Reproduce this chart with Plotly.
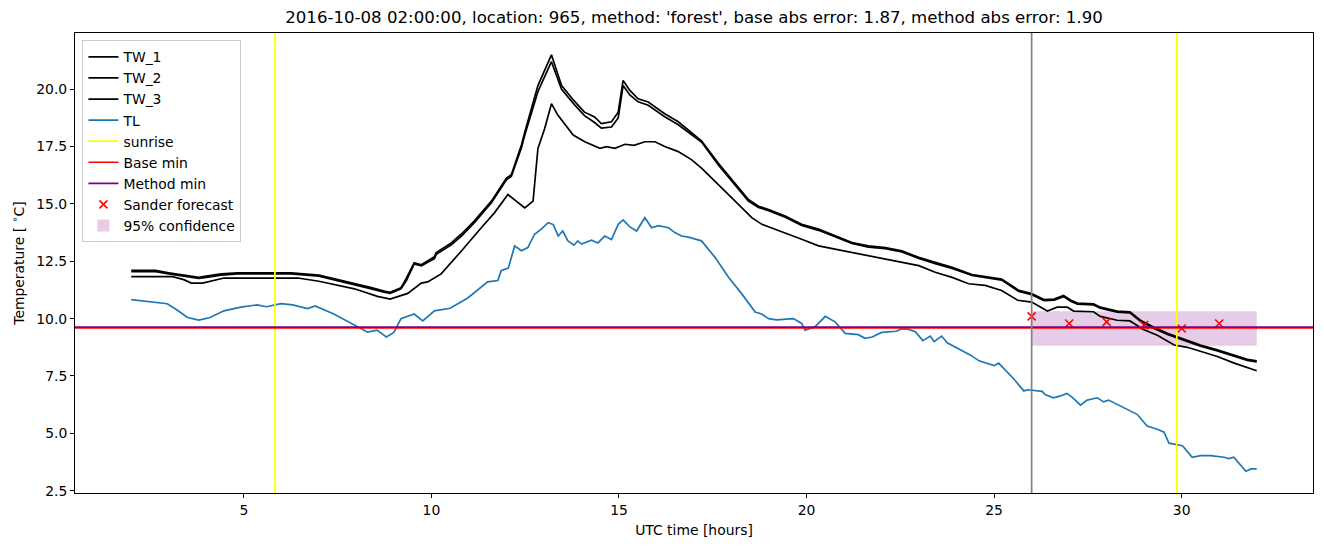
import plotly.graph_objects as go

# ---------------- data ----------------
tw_hours = [2.0, 2.65, 3.0, 3.4, 3.8, 4.0, 4.4, 4.83, 6.26, 7.0, 7.4, 7.95, 8.4, 8.74, 8.9,
            9.19, 9.33, 9.54, 9.73, 10.08, 10.13, 10.53, 10.8, 11.14, 11.6, 12.0, 12.13,
            12.4, 12.49, 12.84, 13.2, 13.47, 13.8, 14.08, 14.35, 14.53, 14.8, 14.98, 15.11,
            15.29, 15.51, 15.78, 16.22, 16.58, 17.02, 17.2, 17.65, 18.09, 18.45, 18.72,
            18.99, 19.43, 19.87, 20.32, 20.76, 21.21, 21.65, 22.1, 22.54, 22.99, 23.43,
            23.88, 24.41, 25.0, 25.2, 25.39, 25.66, 26.0, 26.33, 26.6, 26.85, 27.05, 27.22,
            27.65, 27.83, 28.28, 28.62, 28.9, 29.26, 29.62, 30.05, 30.5, 30.95, 31.4, 31.75,
            32.0]
tw1_temp = [12.1, 12.1, 12.0, 11.9, 11.8, 11.85, 11.95, 12.0, 12.0, 11.9, 11.75, 11.55, 11.35,
            11.2, 11.15, 11.35, 11.75, 12.44, 12.35, 12.7, 12.88, 13.3, 13.69, 14.25, 15.12,
            16.13, 16.27, 17.57, 18.14, 20.16, 21.5, 20.16, 19.5, 19.0, 18.79, 18.5, 18.58,
            19.0, 20.38, 19.95, 19.58, 19.44, 18.93, 18.58, 18.0, 17.75, 16.77, 15.91, 15.19,
            14.9, 14.76, 14.47, 14.11, 13.9, 13.6, 13.32, 13.17, 13.1, 12.96, 12.67, 12.45,
            12.24, 11.92, 11.8, 11.73, 11.52, 11.23, 11.09, 10.83, 10.85, 11.01, 10.8, 10.68,
            10.65, 10.5, 10.33, 10.3, 9.93, 9.62, 9.36, 9.1, 8.85, 8.64, 8.42, 8.23, 8.16]
tw2_temp = [12.05, 12.05, 11.95, 11.85, 11.75, 11.8, 11.9, 11.95, 11.95, 11.85, 11.7, 11.5, 11.3,
            11.15, 11.1, 11.3, 11.65, 12.38, 12.3, 12.62, 12.8, 13.22, 13.6, 14.17, 15.05,
            16.05, 16.2, 17.45, 18.0, 19.9, 21.2, 20.0, 19.35, 18.85, 18.55, 18.3, 18.35,
            18.75, 20.16, 19.75, 19.45, 19.3, 18.8, 18.45, 17.9, 17.7, 16.7, 15.85, 15.12,
            14.85, 14.7, 14.42, 14.06, 13.85, 13.56, 13.28, 13.12, 13.05, 12.91, 12.62, 12.4,
            12.19, 11.88, 11.75, 11.68, 11.47, 11.18, 11.04, 10.78, 10.8, 10.96, 10.75, 10.63,
            10.6, 10.45, 10.28, 10.25, 9.88, 9.57, 9.31, 9.05, 8.8, 8.59, 8.37, 8.18, 8.11]

tw3_hours = [2.0, 3.1, 3.4, 3.6, 3.9, 4.2, 4.47, 6.44, 7.0, 7.95, 8.56, 8.9, 9.37, 9.73, 9.9,
             10.26, 10.44, 10.8, 11.33, 11.68, 12.04, 12.22, 12.49, 12.71, 12.84, 13.02, 13.2,
             13.37, 13.78, 14.09, 14.49, 14.67, 14.89, 15.16, 15.4, 15.69, 15.96, 16.22, 16.58,
             16.94, 17.2, 17.65, 18.09, 18.54, 18.81, 19.43, 19.87, 20.32, 20.76, 21.21, 21.65,
             22.1, 22.54, 22.99, 23.43, 23.88, 24.32, 24.76, 25.2, 25.63, 26.0, 26.42, 26.68,
             26.95, 27.12, 27.65, 27.83, 28.28, 28.62, 28.98, 29.35, 29.8, 30.15, 30.5, 30.95,
             31.4, 31.75, 32.0]
tw3_temp = [11.83, 11.83, 11.7, 11.55, 11.55, 11.65, 11.77, 11.77, 11.63, 11.3, 10.97, 10.85,
            11.1, 11.55, 11.6, 11.95, 12.3, 12.95, 13.96, 14.61, 15.41, 15.19, 14.83, 15.12,
            17.42, 18.29, 19.37, 18.87, 18.0, 17.71, 17.42, 17.5, 17.42, 17.6, 17.55, 17.71,
            17.71, 17.5, 17.28, 16.92, 16.56, 15.84, 15.12, 14.4, 14.11, 13.75, 13.46, 13.17,
            13.03, 12.88, 12.74, 12.6, 12.45, 12.31, 12.02, 11.8, 11.52, 11.45, 11.23, 10.8,
            10.72, 10.33, 10.5, 10.5, 10.33, 10.3, 10.1, 9.93, 9.9, 9.53, 9.28, 8.85, 8.75,
            8.56, 8.35, 8.06, 7.85, 7.73]

tl_hours = [2.0, 2.52, 2.96, 3.2, 3.5, 3.8, 4.1, 4.47, 4.92, 5.35, 5.6, 5.99, 6.3, 6.7, 6.9,
            7.4, 7.95, 8.3, 8.55, 8.8, 9.0, 9.19, 9.54, 9.77, 10.08, 10.5, 10.97, 11.5, 11.77,
            11.86, 12.05, 12.22, 12.4, 12.57, 12.75, 12.93, 13.11, 13.25, 13.38, 13.5, 13.64,
            13.8, 13.9, 14.0, 14.27, 14.44, 14.62, 14.8, 14.98, 15.11, 15.29, 15.47, 15.69,
            15.87, 16.05, 16.32, 16.49, 16.67, 16.85, 17.2, 17.56, 17.92, 18.27, 18.63, 18.8,
            18.99, 19.2, 19.43, 19.65, 19.87, 19.96, 20.23, 20.5, 20.76, 21.03, 21.38, 21.56,
            21.75, 21.92, 22.0, 22.4, 22.5, 22.7, 22.9, 23.1, 23.3, 23.4, 23.6, 23.75, 24.1,
            24.36, 24.6, 24.82, 25.0, 25.12, 25.34, 25.52, 25.79, 25.9, 26.28, 26.36, 26.58,
            26.75, 26.94, 27.1, 27.3, 27.48, 27.75, 27.92, 28.05, 28.28, 28.55, 28.81, 29.08,
            29.35, 29.53, 29.66, 30.02, 30.28, 30.5, 30.77, 31.13, 31.25, 31.39, 31.71, 31.85,
            32.0]
tl_temp = [10.83, 10.73, 10.65, 10.4, 10.05, 9.94, 10.05, 10.34, 10.5, 10.6, 10.52, 10.65,
           10.6, 10.44, 10.55, 10.2, 9.7, 9.41, 9.5, 9.2, 9.4, 10.0, 10.2, 9.9, 10.34, 10.45,
           10.9, 11.6, 11.66, 12.09, 12.2, 13.17, 12.96, 13.1, 13.68, 13.9, 14.18, 14.1, 13.6,
           13.82, 13.39, 13.2, 13.39, 13.25, 13.42, 13.3, 13.6, 13.45, 14.11, 14.3, 14.0, 13.82,
           14.4, 13.96, 14.05, 13.96, 13.75, 13.6, 13.55, 13.39, 12.67, 11.8, 11.09, 10.29,
           10.2, 10.0, 9.95, 9.98, 10.0, 9.79, 9.5, 9.65, 10.1, 9.86, 9.36, 9.3, 9.14, 9.2,
           9.36, 9.4, 9.45, 9.54, 9.54, 9.43, 9.04, 9.24, 9.0, 9.24, 8.95, 8.64, 8.42, 8.16,
           8.06, 7.95, 8.06, 7.7, 7.38, 6.85, 6.9, 6.83, 6.69, 6.55, 6.62, 6.74, 6.55, 6.23,
           6.45, 6.55, 6.37, 6.45, 6.26, 6.04, 5.83, 5.32, 5.18, 5.05, 4.57, 4.46, 3.96, 4.03,
           4.03, 3.96, 3.9, 3.96, 3.35, 3.45, 3.45]

sunrise_hours = [5.83, 29.87]
forecast_start = 26.0
base_min = 9.60
method_min = 9.63
sander_hours = [26, 27, 28, 29, 30, 31]
sander_temp = [10.1, 9.79, 9.86, 9.72, 9.57, 9.79]
conf_hours = [26.0, 32.0]
conf_temp = [8.82, 10.32]

title_text = ("2016-10-08 02:00:00, location: 965, method: 'forest', "
              "base abs error: 1.87, method abs error: 1.90")

# ---------------- figure ----------------
FONT = "DejaVu Sans, sans-serif"
FS = 13.9
LW = 1.7

fig = go.Figure()
fig.add_trace(go.Scatter(x=tw_hours, y=tw1_temp, mode="lines", name="TW_1",
                         line=dict(color="black", width=LW), legendrank=1))
fig.add_trace(go.Scatter(x=tw_hours, y=tw2_temp, mode="lines", name="TW_2",
                         line=dict(color="black", width=LW), legendrank=2))
fig.add_trace(go.Scatter(x=tw3_hours, y=tw3_temp, mode="lines", name="TW_3",
                         line=dict(color="black", width=LW), legendrank=3))
fig.add_trace(go.Scatter(x=tl_hours, y=tl_temp, mode="lines", name="TL",
                         line=dict(color="#1f77b4", width=LW), legendrank=4))
fig.add_trace(go.Scatter(x=sander_hours, y=sander_temp, mode="markers", name="Sander forecast",
                         marker=dict(symbol="x-thin", size=8, color="red",
                                     line=dict(color="red", width=1.6)),
                         legendrank=8))

shapes = []
for i, s in enumerate(sunrise_hours):
    shapes.append(dict(type="line", xref="x", yref="y domain", x0=s, x1=s, y0=0, y1=1,
                       line=dict(color="yellow", width=LW), layer="above",
                       showlegend=(i == 0), name="sunrise", legendrank=5))
shapes.append(dict(type="line", xref="x domain", yref="y", x0=0, x1=1, y0=base_min, y1=base_min,
                   line=dict(color="red", width=LW), layer="above",
                   showlegend=True, name="Base min", legendrank=6))
shapes.append(dict(type="line", xref="x domain", yref="y", x0=0, x1=1, y0=method_min,
                   y1=method_min, line=dict(color="purple", width=LW), layer="above",
                   showlegend=True, name="Method min", legendrank=7))
shapes.append(dict(type="line", xref="x", yref="y domain", x0=forecast_start, x1=forecast_start,
                   y0=0, y1=1, line=dict(color="gray", width=LW), layer="above"))
shapes.append(dict(type="rect", xref="x", yref="y", x0=conf_hours[0], x1=conf_hours[1],
                   y0=conf_temp[0], y1=conf_temp[1], fillcolor="rgba(128,0,128,0.2)",
                   line=dict(width=0), layer="below",
                   showlegend=True, name="95% confidence", legendrank=9))

fig.update_layout(
    width=1324, height=547,
    margin=dict(l=75, r=11, t=33, b=54),
    paper_bgcolor="white", plot_bgcolor="white",
    font=dict(family=FONT, size=FS, color="black"),
    title=dict(text=title_text, x=0.5, xanchor="center", xref="paper",
               y=1 - 17 / 547, yanchor="middle", font=dict(size=16.6)),
    shapes=shapes,
    showlegend=True,
    legend=dict(x=0.006, y=0.984, xanchor="left", yanchor="top",
                bgcolor="rgba(255,255,255,0.8)", bordercolor="#cccccc", borderwidth=1,
                font=dict(size=FS), itemwidth=30, tracegroupgap=0),
)
fig.update_xaxes(range=[0.5, 33.5], tickvals=[5, 10, 15, 20, 25, 30],
                 tickfont=dict(size=FS),
                 showline=True, linecolor="black", linewidth=1, mirror=True,
                 ticks="outside", ticklen=4, tickcolor="black", showgrid=False, zeroline=False,
                 title=dict(text="UTC time [hours]", standoff=8, font=dict(size=FS)))
fig.update_yaxes(range=[2.4, 22.45], tickvals=[2.5, 5, 7.5, 10, 12.5, 15, 17.5, 20],
                 tickformat=".1f", tickfont=dict(size=FS),
                 showline=True, linecolor="black", linewidth=1, mirror=True,
                 ticks="outside", ticklen=4, tickcolor="black", showgrid=False, zeroline=False,
                 title=dict(text="Temperature [ <sup>∘</sup>C]", standoff=8, font=dict(size=FS)))

fig.write_html("out.html")
